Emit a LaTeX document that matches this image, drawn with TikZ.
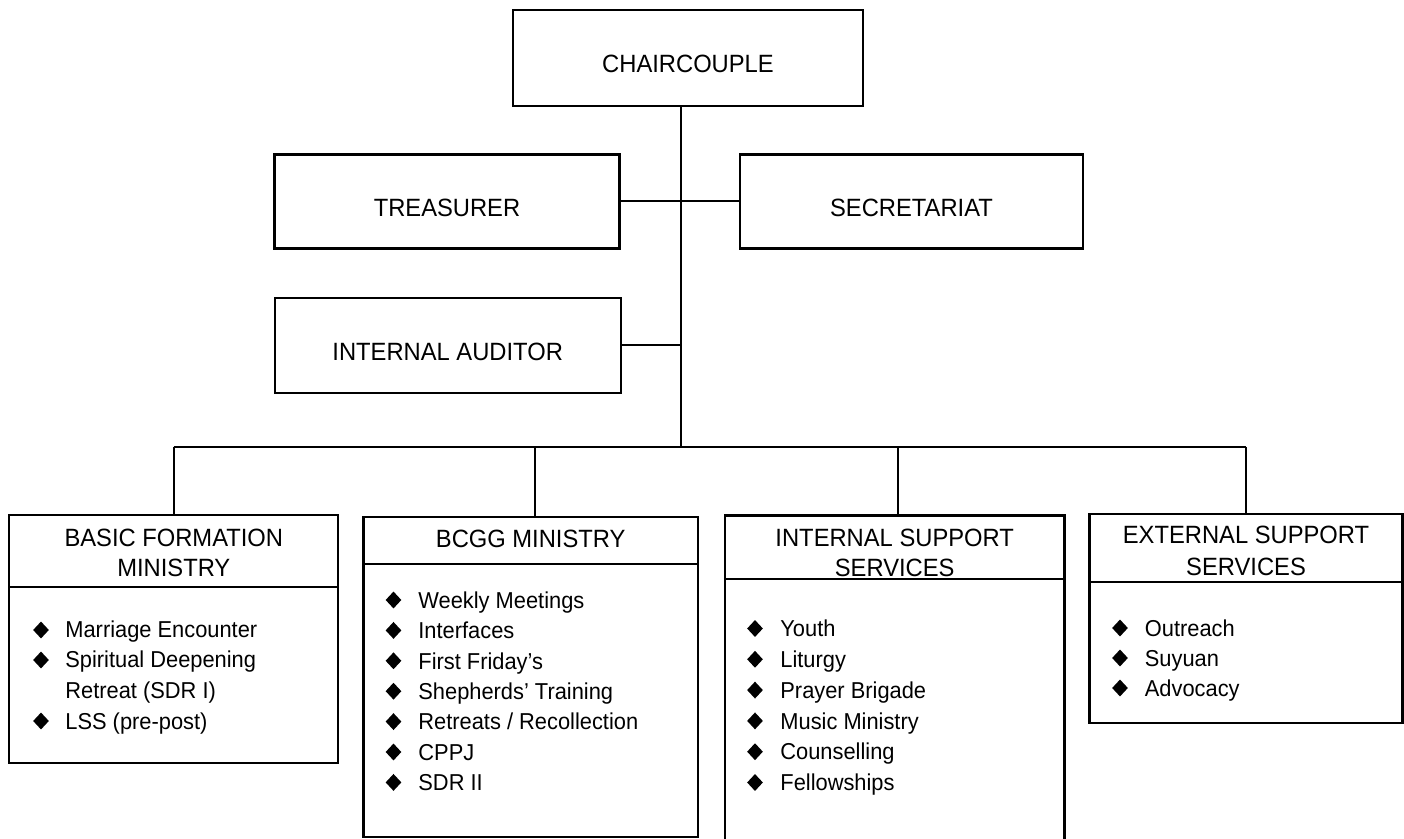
\documentclass[tikz,border=0pt]{standalone}
\usepackage{fontspec}
\setmainfont{Liberation Sans}[FakeStretch=0.95]
\usetikzlibrary{shapes.geometric}
\newcommand\ttlfont{\fontsize{12.5}{15}\selectfont}
\newcommand\itmfont{\fontsize{11.5}{15}\selectfont}
\begin{document}
\begin{tikzpicture}[x=0.5pt,y=-0.5pt,
  topbox/.style={draw, line width=1.1pt, inner sep=0pt, font=\ttlfont, text height=15pt, text depth=0pt},
  minbox/.style={draw, line width=1.1pt, inner sep=0pt},
  ttl/.style={font=\ttlfont, inner sep=0pt, anchor=base},
  itx/.style={font=\itmfont, inner sep=0pt, anchor=base west},
  bul/.style={diamond, fill=black, inner sep=0pt, minimum width=8pt, minimum height=8.6pt},
  conn/.style={line width=1pt},
  divl/.style={line width=1.1pt}]
\useasboundingbox (0,0) rectangle (1404,839);
\fill[white] (0,0) rectangle (1404,839);

% top boxes
\node[topbox, minimum width=175pt, minimum height=48pt] (chair) at (688,58) {CHAIRCOUPLE};
\node[topbox, minimum width=172.5pt, minimum height=47pt] (treas) at (447,201.5) {TREASURER};
\node[topbox, minimum width=171.5pt, minimum height=47pt] (secr) at (911.5,201.5) {SECRETARIAT};
\node[topbox, minimum width=173pt, minimum height=47.5pt] (aud) at (447.7,345.5) {INTERNAL AUDITOR};

% ministry boxes
\node[minbox, minimum width=164.5pt, minimum height=123.85pt] (bfm) at (173.8,638.9) {};
\node[minbox, minimum width=167.15pt, minimum height=160pt] (bcgg) at (530.65,676.7) {};
\node[minbox, minimum width=169.75pt, minimum height=163.75pt] (iss) at (894.75,679.25) {};
\node[minbox, minimum width=156.5pt, minimum height=104.5pt] (ess) at (1246,618.5) {};

% dividers
\coordinate (bfmD) at (0,586.7);
\coordinate (bcggD) at (0,564);
\coordinate (issD) at (0,579);
\coordinate (essD) at (0,581.7);
\draw[divl] (bfm.west |- bfmD) -- (bfm.east |- bfmD);
\draw[divl] (bcgg.west |- bcggD) -- (bcgg.east |- bcggD);
\draw[divl] (iss.west |- issD) -- (iss.east |- issD);
\draw[divl] (ess.west |- essD) -- (ess.east |- essD);

% titles
\node[ttl] (bfmT1) at (173.8,546.3) {BASIC FORMATION};
\node[ttl] (bfmT2) at (173.8,576.3) {MINISTRY};
\node[ttl] (bcggT) at (530.7,548) {BCGG MINISTRY};
\node[ttl] (issT1) at (894.7,547) {INTERNAL SUPPORT};
\node[ttl] (issT2) at (894.7,576.5) {SERVICES};
\node[ttl] (essT1) at (1246,544) {EXTERNAL SUPPORT};
\node[ttl] (essT2) at (1246,575) {SERVICES};

% items
\node[bul] (bfmB0) at (41,630) {};
\node[itx] (bfmI0) at (65,638) {Marriage Encounter};
\node[bul] (bfmB1) at (41,660) {};
\node[itx] (bfmI1) at (65,668) {Spiritual Deepening};
\node[itx] (bfmI2) at (65,698) {Retreat (SDR I)};
\node[bul] (bfmB3) at (41,721) {};
\node[itx] (bfmI3) at (65,729) {LSS (pre-post)};

\foreach \t [count=\i from 0] in {Weekly Meetings, Interfaces, First Friday's, Shepherds' Training, Retreats / Recollection, CPPJ, SDR II} {
  \node[bul] (bcggB\i) at (393.5,{600+30.4*\i}) {};
  \node[itx] (bcggI\i) at (418,{608.2+30.4*\i}) {\t};
}
\foreach \t [count=\i from 0] in {Youth, Liturgy, Prayer Brigade, Music Ministry, Counselling, Fellowships} {
  \node[bul] (issB\i) at (755,{628.5+30.8*\i}) {};
  \node[itx] (issI\i) at (780,{636.7+30.8*\i}) {\t};
}
\foreach \t [count=\i from 0] in {Outreach, Suyuan, Advocacy} {
  \node[bul] (essB\i) at (1120,{628+30*\i}) {};
  \node[itx] (essI\i) at (1144.5,{636.2+30*\i}) {\t};
}

% connectors
\coordinate (bus) at (681,447);
\draw[conn] (chair.south -| bus) -- (bus);
\draw[conn] (treas.east) -- (secr.west);
\draw[conn] (aud.east) -- (aud.east -| bus);
\coordinate (d1) at (173.5,447);
\coordinate (d2) at (535,447);
\coordinate (d3) at (897.7,447);
\coordinate (d4) at (1245.8,447);
\draw[conn] (d1) -- (d4);
\draw[conn] (d1) -- (d1 |- bfm.north);
\draw[conn] (d2) -- (d2 |- bcgg.north);
\draw[conn] (d3) -- (d3 |- iss.north);
\draw[conn] (d4) -- (d4 |- ess.north);
\end{tikzpicture}
\end{document}
